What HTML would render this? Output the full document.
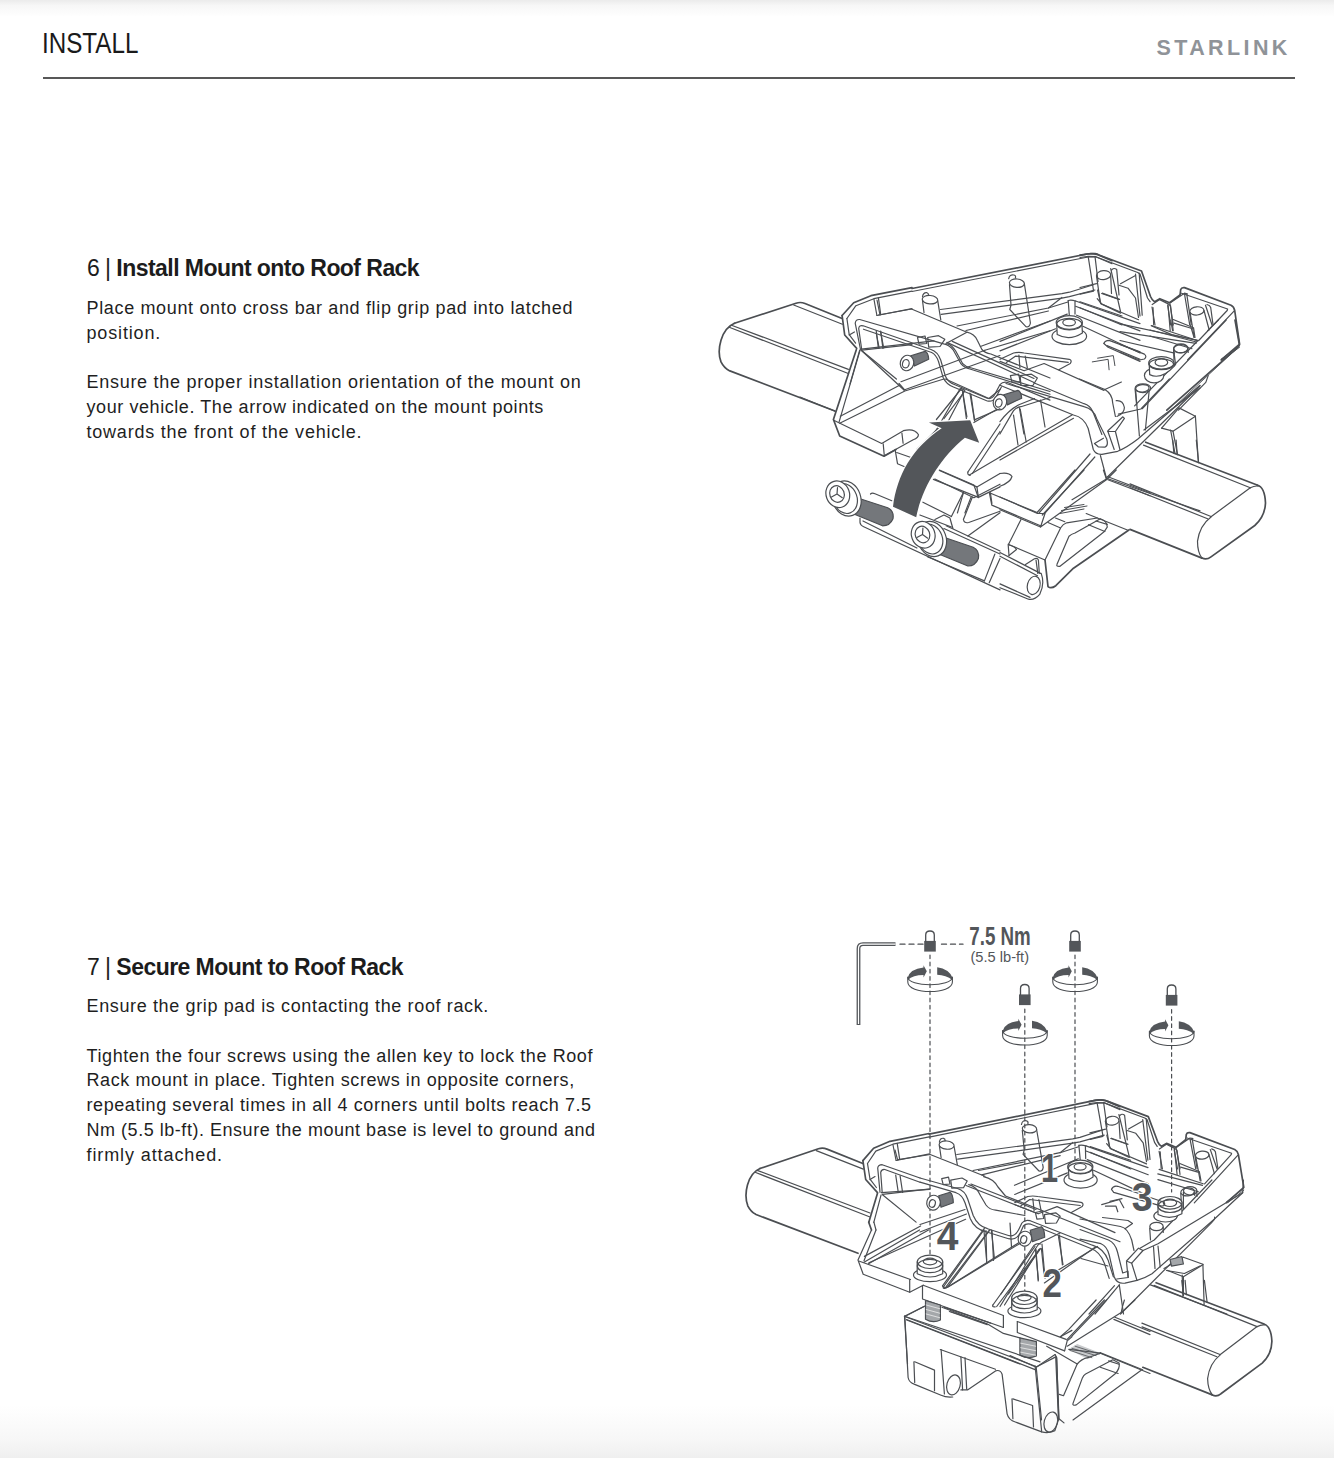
<!DOCTYPE html>
<html><head><meta charset="utf-8">
<style>
html,body{margin:0;padding:0;}
body{width:1334px;height:1458px;position:relative;overflow:hidden;background:#fff;font-family:"Liberation Sans",sans-serif;color:#1e1e1e;}
.topg{position:absolute;left:0;top:0;width:1334px;height:16px;background:linear-gradient(#ebebeb,#f7f7f7 35%,#fefefe 100%);}
.botg{position:absolute;left:0;top:1405px;width:1334px;height:53px;background:linear-gradient(#ffffff,#f7f7f7 65%,#efefef 100%);}
.hd{position:absolute;left:41.5px;top:22.8px;font-size:29px;line-height:40px;color:#1a1a1a;white-space:nowrap;transform:scaleX(0.835);transform-origin:0 0;}
.logo{position:absolute;left:1156.5px;top:36px;font-size:21.5px;font-weight:bold;letter-spacing:3.4px;color:#8f9398;line-height:24px;white-space:nowrap;}
.rule{position:absolute;left:43px;top:76.7px;width:1252px;height:2px;background:#585858;}
.h{position:absolute;left:87px;font-size:23px;letter-spacing:-0.55px;line-height:28px;white-space:nowrap;color:#1c1c1c;}
.h b{font-weight:bold;}
.p{position:absolute;left:86.5px;font-size:18px;letter-spacing:0.6px;line-height:24.8px;white-space:nowrap;color:#1f1f1f;}
svg{position:absolute;left:0;top:0;}
</style></head><body>
<div class="topg"></div>
<div class="botg"></div>
<div class="hd">INSTALL</div>
<div class="logo">STARLINK</div>
<div class="rule"></div>

<div class="h" style="top:254px">6 | <b>Install Mount onto Roof Rack</b></div>
<div class="p" style="top:296px">
<div style="letter-spacing:0.654px">Place mount onto cross bar and flip grip pad into latched</div>
<div style="letter-spacing:0.85px">position.</div>
<div>&nbsp;</div>
<div style="letter-spacing:0.718px">Ensure the proper installation orientation of the mount on</div>
<div style="letter-spacing:0.575px">your vehicle. The arrow indicated on the mount points</div>
<div style="letter-spacing:0.78px">towards the front of the vehicle.</div>
</div>

<div class="h" style="top:953px">7 | <b>Secure Mount to Roof Rack</b></div>
<div class="p" style="top:994px">
<div style="letter-spacing:0.63px">Ensure the grip pad is contacting the roof rack.</div>
<div>&nbsp;</div>
<div style="letter-spacing:0.6px">Tighten the four screws using the allen key to lock the Roof</div>
<div style="letter-spacing:0.59px">Rack mount in place. Tighten screws in opposite corners,</div>
<div style="letter-spacing:0.58px">repeating several times in all 4 corners until bolts reach 7.5</div>
<div style="letter-spacing:0.53px">Nm (5.5 lb-ft). Ensure the mount base is level to ground and</div>
<div style="letter-spacing:0.9px">firmly attached.</div>
</div>

<svg width="1334" height="1458" viewBox="0 0 1334 1458" fill="none" stroke="#4b4e52" stroke-width="1.2" stroke-linejoin="round" stroke-linecap="round">
<!-- DRAWINGS -->
<!-- d1_a1.txt -->
<path d="M 734.5 323.3 L 796.0 303.2 Q 800.5 301.7 805.0 303.5 L 842.1 318.5" stroke-width="1.7"/>
<path d="M 793.7 305.0 L 842.4 324.2"/>
<path d="M 731.5 325.2 L 848.4 369.4"/>
<path d="M 729.2 327.2 L 847.7 373.3"/>
<path d="M 734.5 323.3 C 721.0 329.0 716.5 349.9 721.0 361.9 C 724.0 367.9 727.0 369.4 729.2 370.6 L 834.9 411.0" stroke-width="1.7"/>
<path d="M 842.1 315.5 L 853.7 302.7 L 870.9 295.7 L 912.0 287.7" stroke-width="1.7"/>
<path d="M 846.9 318.5 L 855.9 305.7 L 873.9 298.7 L 912.0 291.2"/>
<path d="M 842.1 315.5 L 844.7 335.0 L 856.7 348.4" stroke-width="1.7"/>
<path d="M 846.9 318.5 L 849.2 334.7 L 855.6 343.2"/>
<path d="M 849.2 335.0 L 854.4 332.0"/>
<path d="M 873.9 299.0 L 876.9 315.5"/>
<path d="M 878.4 297.8 L 880.7 314.3"/>
<path d="M 876.9 315.5 L 912.0 308.7"/>
<path d="M 876.2 330.5 L 878.4 348.4"/>
<path d="M 880.7 331.2 L 882.9 348.4"/>
<path d="M 861.9 350.2 L 912.0 344.7"/>
<path d="M 856.4 349.6 L 833.4 419.5" stroke-width="1.7"/>
<path d="M 860.1 350.2 L 839.1 421.9"/>
<path d="M 861.9 350.7 L 896.4 379.0"/>
<ellipse cx="906.9" cy="363.4" rx="5.2" ry="6.7" transform="rotate(10.0 906.9 363.4)"/>
<!-- d1_a2.txt -->
<path d="M 912.0 288.5 L 1087.4 254.0 Q 1091.9 253.2 1097.9 254.7 L 1112.0 260.7" stroke-width="1.7"/>
<path d="M 912.0 291.5 L 1088.2 257.0 L 1095.7 256.7 L 1112.0 263.7"/>
<ellipse cx="930.0" cy="299.7" rx="7.8" ry="4.2" transform="rotate(5.0 930.0 299.7)"/>
<path d="M 922.5 300.5 L 924.0 312.5"/>
<path d="M 937.8 301.2 L 940.8 320.0"/>
<path d="M 922.5 296.7 Q 923.2 292.2 927.0 292.7 Q 928.8 293.3 928.5 295.2"/>
<ellipse cx="1016.9" cy="283.2" rx="7.5" ry="4.2" transform="rotate(5.0 1016.9 283.2)"/>
<path d="M 1009.5 284.7 L 1011.0 305.0 L 1009.8 309.5 L 1025.9 326.7 Q 1029.7 327.5 1030.4 323.0 L 1024.4 284.0"/>
<path d="M 1008.7 278.7 Q 1009.5 274.2 1013.9 275.0 Q 1016.2 275.7 1015.4 278.0"/>
<path d="M 940.5 309.5 L 1061.9 293.7 L 1069.4 292.2 L 1093.4 284.7"/>
<path d="M 941.2 314.3 L 1061.9 298.2 L 1069.4 296.7 L 1094.9 290.0"/>
<path d="M 957.0 326.0 L 1048.4 308.0 L 1067.9 302.0"/>
<path d="M 966.0 330.5 L 1048.4 311.0"/>
<path d="M 1048.4 308.0 L 1061.9 297.5"/>
<!-- d1_b1.txt -->
<path d="M 800.0 397.0 L 835.2 411.2"/>
<path d="M 833.7 420.2 L 839.7 436.0 L 884.0 456.2 L 896.0 449.5" stroke-width="1.7"/>
<path d="M 839.7 423.2 L 904.9 391.0 L 943.9 379.0"/>
<path d="M 899.0 383.5 L 904.9 390.2"/>
<path d="M 833.7 420.2 L 881.7 443.5 L 903.4 430.7 Q 913.9 427.7 918.4 434.5 Q 918.7 437.8 913.2 439.7 L 884.7 455.5"/>
<path d="M 883.2 443.8 L 884.3 455.8"/>
<path d="M 901.9 433.0 L 903.1 443.2"/>
<path d="M 895.2 450.2 L 897.5 463.7 L 906.4 467.5"/>
<path d="M 896.7 452.5 L 911.7 457.7"/>
<path d="M 936.4 419.5 L 961.9 388.0"/>
<path d="M 943.9 418.7 L 964.9 391.0"/>
<path d="M 916.9 449.5 L 942.4 424.0"/>
<path d="M 962.7 392.5 L 966.4 418.7"/>
<path d="M 970.9 394.0 L 974.7 421.0"/>
<path d="M 973.9 422.5 L 1000.0 407.5"/>
<path d="M 945.4 379.0 L 988.9 398.5 L 1000.0 389.5"/>
<path d="M 967.9 472.0 L 1000.0 424.0"/>
<path d="M 969.4 475.0 L 1000.0 457.0"/>
<path d="M 972.4 473.5 L 1000.0 431.5"/>
<path d="M 967.9 472.0 Q 967.2 475.0 970.2 475.3"/>
<path d="M 939.4 470.5 L 976.9 486.9 L 1000.0 473.5"/>
<path d="M 933.4 479.4 L 978.4 497.4 L 1000.0 486.9"/>
<path d="M 976.9 486.9 L 978.4 497.4"/>
<path d="M 990.4 492.9 L 991.9 503.4"/>
<path d="M 957.4 513.0 L 963.4 492.9"/>
<path d="M 964.9 513.0 L 970.9 497.4"/>
<!-- d1_b2.txt -->
<path d="M 1006.0 383.5 L 1084.0 406.7 Q 1093.7 409.0 1096.7 418.7 L 1106.7 439.0 Q 1108.7 445.7 1104.9 447.2 L 1098.2 446.8 L 1094.5 443.5 L 1103.4 438.2"/>
<path d="M 1000.0 385.3 L 1073.5 415.0 Q 1084.0 417.2 1088.2 428.5 L 1093.3 449.5 Q 1095.7 454.7 1101.9 454.3 L 1117.7 451.3 Q 1127.4 447.2 1137.9 439.0 L 1200.0 385.3"/>
<path d="M 1033.7 382.7 L 1084.0 403.7 Q 1090.0 405.2 1093.0 412.0 L 1101.9 434.5"/>
<path d="M 1079.5 379.0 L 1104.9 389.5 L 1121.4 382.0"/>
<path d="M 1104.9 389.5 Q 1112.4 394.0 1112.7 403.0 L 1115.4 416.5"/>
<path d="M 1107.9 430.7 L 1122.9 416.8 L 1124.4 418.3 L 1115.4 431.5 L 1107.9 431.5 Z"/>
<path d="M 1107.9 431.5 L 1114.2 449.5"/>
<path d="M 1115.4 431.5 L 1119.9 449.5"/>
<ellipse cx="1142.4" cy="388.3" rx="6.7" ry="3.7" transform="rotate(-5.0 1142.4 388.3)"/>
<path d="M 1135.7 391.0 L 1139.4 436.0"/>
<path d="M 1149.2 390.2 L 1145.4 430.0"/>
<path d="M 1118.4 414.2 L 1140.9 409.0 L 1169.4 379.0"/>
<path d="M 1116.9 416.5 Q 1124.4 413.5 1124.4 407.5 Q 1122.9 400.0 1116.2 400.7"/>
<path d="M 1143.9 430.0 L 1200.0 388.0"/>
<path d="M 1106.4 478.0 L 1200.0 385.7"/>
<path d="M 1100.4 455.5 L 1106.4 478.0"/>
<path d="M 1107.9 478.7 L 1200.0 510.9"/>
<path d="M 1106.4 479.1 L 1072.0 499.7"/>
<path d="M 1000.0 457.0 L 1072.0 415.0"/>
<path d="M 1000.0 460.0 L 1073.5 418.3"/>
<path d="M 1013.5 415.0 L 1018.0 445.0"/>
<path d="M 1020.2 409.0 L 1026.2 442.0"/>
<path d="M 1040.5 400.0 L 1045.0 427.0"/>
<path d="M 1000.0 421.7 Q 1009.0 409.7 1019.5 404.5 L 1034.5 398.5"/>
<path d="M 1039.0 513.0 L 1090.0 454.0"/>
<path d="M 1045.0 513.0 L 1094.8 457.0"/>
<path d="M 1000.0 473.5 Q 1009.0 472.0 1012.0 476.5 Q 1010.5 482.4 1000.0 486.2"/>
<path d="M 1161.6 428.2 L 1179.0 407.9 L 1195.4 416.2"/>
<path d="M 1161.6 428.2 L 1173.0 431.2 L 1195.4 416.2"/>
<path d="M 1173.0 431.2 L 1177.5 454.6"/>
<path d="M 1170.6 430.0 L 1175.1 454.0"/>
<path d="M 1195.4 416.2 L 1198.4 462.7"/>
<!-- d1_band.txt -->
<path d="M 946.9 342.4 L 1034.0 382.5"/>
<path d="M 952.3 341.4 L 1034.0 378.5"/>
<!-- d1_barR.txt -->
<path d="M 1145.7 442.2 L 1257.1 485.0" stroke-width="1.7"/>
<path d="M 1143.5 445.1 L 1250.3 487.8"/>
<path d="M 1130.0 483.9 L 1211.0 516.5"/>
<path d="M 1130.0 487.8 L 1207.6 518.7"/>
<path d="M 1130.0 529.4 L 1202.0 558.1" stroke-width="1.7"/>
<path d="M 1257.1 485.0 Q 1264.9 487.2 1265.5 503.0 Q 1264.9 516.5 1254.8 525.5 L 1211.0 556.9 Q 1206.5 560.3 1202.0 558.1" stroke-width="1.7"/>
<path d="M 1211.0 517.0 Q 1199.7 525.5 1197.5 541.2 Q 1197.5 552.4 1202.0 558.1"/>
<path d="M 1250.3 487.8 Q 1254.8 485.5 1258.2 486.1"/>
<path d="M 1172.7 440.0 L 1173.9 453.5"/>
<path d="M 1176.1 440.0 L 1177.2 454.6"/>
<path d="M 1196.3 440.0 L 1198.6 462.5"/>
<path d="M 1211.0 516.7 L 1250.3 487.8"/>
<!-- d1_c1.txt -->
<path d="M 870.5 494.0 Q 872.0 492.5 875.0 493.7 L 891.8 500.7"/>
<path d="M 860.0 518.0 L 860.0 522.5 Q 860.3 525.2 863.7 526.7 L 1000.0 589.9"/>
<path d="M 863.0 521.0 L 916.9 548.0"/>
<path d="M 943.9 528.5 L 1000.0 554.0"/>
<path d="M 946.2 525.8 L 1000.0 551.0"/>
<path d="M 927.4 556.7 L 984.4 580.9"/>
<path d="M 994.9 554.0 L 984.4 580.9"/>
<path d="M 1000.0 558.5 L 989.2 582.7"/>
<path d="M 855.5 497.3 L 887.7 507.8 Q 894.2 510.8 893.0 518.7 Q 890.0 525.8 882.5 525.8 L 853.2 513.8 Z" fill="#74777b"/>
<ellipse cx="846.5" cy="498.5" rx="14.2" ry="18.0" transform="rotate(-20.0 846.5 498.5)" fill="#fff"/>
<ellipse cx="845.0" cy="498.5" rx="12.0" ry="15.3" transform="rotate(-20.0 845.0 498.5)"/>
<ellipse cx="837.8" cy="494.3" rx="11.7" ry="13.5" transform="rotate(-20.0 837.8 494.3)" fill="#fff"/>
<ellipse cx="837.0" cy="494.0" rx="7.2" ry="8.4" transform="rotate(-20.0 837.0 494.0)"/>
<path d="M 837.0 494.0 L 837.5 487.7 M 837.0 494.0 L 831.5 497.0 M 837.0 494.0 L 842.3 497.7"/>
<path d="M 940.9 536.3 L 973.2 547.2 Q 979.6 550.2 978.4 558.5 Q 975.4 566.0 967.9 566.0 L 938.7 554.0 Z" fill="#74777b"/>
<ellipse cx="931.9" cy="539.0" rx="14.2" ry="18.0" transform="rotate(-20.0 931.9 539.0)" fill="#fff"/>
<ellipse cx="930.4" cy="539.0" rx="12.0" ry="15.3" transform="rotate(-20.0 930.4 539.0)"/>
<ellipse cx="923.2" cy="534.8" rx="11.7" ry="13.5" transform="rotate(-20.0 923.2 534.8)" fill="#fff"/>
<ellipse cx="922.5" cy="534.5" rx="7.2" ry="8.4" transform="rotate(-20.0 922.5 534.5)"/>
<path d="M 922.5 534.5 L 922.9 528.2 M 922.5 534.5 L 916.9 537.5 M 922.5 534.5 L 927.7 538.2"/>
<path d="M 934.9 479.0 L 973.9 497.7 L 1000.0 484.2"/>
<path d="M 939.4 470.0 L 973.9 485.0 L 978.4 497.7"/>
<path d="M 963.4 492.5 L 951.4 516.5"/>
<path d="M 972.4 497.0 L 963.4 519.5 Q 964.2 523.7 968.7 522.5 L 1000.0 511.2"/>
<path d="M 922.9 502.2 L 951.4 516.5"/>
<path d="M 919.9 515.0 L 951.4 527.0"/>
<path d="M 934.9 519.5 L 943.9 515.0 L 949.9 518.0 L 952.9 528.5"/>
<path d="M 967.9 536.0 L 1000.0 512.7"/>
<!-- d1_c2.txt -->
<path d="M 1107.9 476.7 L 1149.9 492.8"/>
<path d="M 1107.9 479.7 L 1149.9 495.8"/>
<path d="M 1086.2 513.5 L 1127.4 530.0"/>
<path d="M 1075.0 470.0 L 1037.5 512.0"/>
<path d="M 1084.0 470.0 L 1042.3 515.0"/>
<path d="M 1000.0 497.0 L 1037.5 513.5 L 1045.0 513.5 L 1040.5 527.0 L 1106.4 479.7 L 1116.2 470.0"/>
<path d="M 1000.0 509.7 L 1040.5 527.0"/>
<path d="M 1103.4 470.0 L 1106.4 479.0"/>
<path d="M 1061.5 510.5 L 1087.0 506.0" stroke-width="1.0"/>
<path d="M 1060.0 513.5 L 1084.0 509.0" stroke-width="1.0"/>
<path d="M 1064.5 507.5 L 1084.0 504.5" stroke-width="1.0"/>
<path d="M 1021.0 519.5 L 1008.2 545.0 L 1009.0 555.5"/>
<path d="M 1008.2 544.2 L 1045.0 560.0 L 1060.7 527.7 Q 1063.0 524.0 1066.7 522.8 L 1097.5 518.0"/>
<path d="M 1045.0 560.0 L 1048.0 586.6 Q 1051.0 589.2 1055.8 585.7 L 1073.5 568.2 L 1128.9 530.0" stroke-width="1.7"/>
<path d="M 1057.0 564.2 L 1069.0 536.3 Q 1071.2 534.2 1075.0 533.0 L 1100.4 518.7 Q 1107.2 521.0 1107.3 527.0 Q 1105.2 531.5 1100.7 534.5 L 1060.0 566.3 Q 1055.8 566.7 1057.0 564.2 Z"/>
<path d="M 1088.5 524.7 L 1104.9 531.5"/>
<path d="M 1096.0 521.0 L 1107.3 524.3"/>
<path d="M 1048.0 522.5 L 1060.0 527.7"/>
<path d="M 1055.5 518.0 L 1064.8 521.7"/>
<path d="M 1009.0 545.0 Q 1015.0 546.5 1016.5 549.5 L 1009.0 555.5"/>
<path d="M 1000.0 552.5 L 1040.5 573.4"/>
<path d="M 1000.0 556.2 L 1037.5 575.7"/>
<path d="M 1025.5 564.5 L 1034.5 558.8 Q 1037.5 557.7 1038.4 560.0 L 1039.3 573.4"/>
<path d="M 1036.0 560.0 L 1037.8 573.4"/>
<ellipse cx="1033.7" cy="585.4" rx="6.3" ry="9.3" transform="rotate(15.0 1033.7 585.4)"/>
<path d="M 1041.2 573.4 Q 1045.0 583.9 1039.7 594.4 Q 1034.5 600.4 1028.5 599.2 L 1000.0 587.7"/>
<path d="M 1000.0 583.9 L 1030.0 597.4"/>
<path d="M 989.4 492.8 L 991.8 505.1 L 1040.5 525.8"/>
<path d="M 989.4 492.8 L 1037.2 512.6"/>
<!-- d1_r1.txt -->
<path d="M 1080.0 255.2 Q 1087.5 253.4 1095.0 253.7 Q 1097.2 254.1 1099.5 255.2 L 1141.5 271.0 L 1150.5 296.5 Q 1152.0 300.2 1154.6 301.7 L 1159.8 298.7 L 1169.6 302.8 L 1180.0 295.0" stroke-width="1.7"/>
<path d="M 1080.0 257.5 L 1088.2 256.4 L 1095.7 256.7 L 1137.7 272.5 L 1140.0 274.0 L 1147.5 298.0 L 1150.1 301.7"/>
<path d="M 1088.2 256.7 L 1093.5 290.5"/>
<path d="M 1095.0 256.4 L 1098.0 281.5"/>
<ellipse cx="1103.6" cy="275.1" rx="7.1" ry="4.5" transform="rotate(-5.0 1103.6 275.1)"/>
<path d="M 1096.5 275.9 L 1100.2 301.7"/>
<path d="M 1110.7 275.5 L 1111.5 293.5"/>
<path d="M 1110.7 268.7 L 1120.5 311.5"/>
<path d="M 1111.5 270.2 Q 1113.7 267.2 1116.7 269.5 L 1119.0 295.0"/>
<path d="M 1119.0 285.2 L 1128.0 288.2 L 1135.5 298.0 L 1138.5 317.5"/>
<path d="M 1120.5 283.7 L 1135.5 275.5"/>
<path d="M 1135.5 274.0 L 1140.0 316.0"/>
<path d="M 1139.2 273.2 L 1142.2 315.2"/>
<path d="M 1101.7 293.5 L 1119.0 299.5"/>
<path d="M 1097.2 298.7 L 1101.7 304.0 L 1138.5 319.7"/>
<path d="M 1080.0 301.7 L 1122.0 316.0"/>
<path d="M 1080.0 307.7 L 1122.0 325.0"/>
<path d="M 1080.0 287.5 L 1096.5 283.7"/>
<path d="M 1080.0 294.2 L 1093.5 291.2"/>
<path d="M 1152.0 307.0 L 1155.0 325.0"/>
<path d="M 1167.7 305.5 L 1170.7 325.0"/>
<path d="M 1170.0 304.0 L 1173.3 325.0"/>
<!-- d1_r2.txt -->
<path d="M 1180.0 295.5 L 1180.7 289.5 Q 1181.5 287.2 1184.5 287.6 L 1231.0 305.2 Q 1234.0 306.7 1234.7 310.5 L 1239.6 344.2 L 1221.2 360.0" stroke-width="1.7"/>
<path d="M 1181.5 293.2 L 1227.6 309.0 L 1227.2 310.5 L 1198.7 340.5"/>
<path d="M 1234.0 311.2 L 1187.5 360.0"/>
<path d="M 1152.2 304.5 L 1159.7 299.6 L 1168.7 304.1 L 1170.6 306.0 L 1173.2 330.7"/>
<path d="M 1153.0 307.5 L 1153.7 324.7"/>
<path d="M 1168.0 304.5 L 1170.2 330.7"/>
<path d="M 1169.9 303.0 L 1184.5 293.2 L 1187.5 294.0"/>
<path d="M 1184.5 294.0 L 1189.7 324.7"/>
<path d="M 1186.7 293.6 L 1191.2 324.7"/>
<path d="M 1173.2 319.5 L 1193.5 327.7 L 1195.0 337.5"/>
<path d="M 1174.0 323.2 L 1192.0 328.5"/>
<ellipse cx="1196.9" cy="310.9" rx="7.1" ry="4.1" transform="rotate(-5.0 1196.9 310.9)"/>
<path d="M 1190.1 312.7 L 1194.2 337.5"/>
<path d="M 1204.0 310.5 L 1209.2 330.0"/>
<path d="M 1205.5 305.2 L 1212.2 325.5"/>
<path d="M 1207.0 304.5 Q 1210.0 305.2 1210.7 307.5 L 1213.0 324.7"/>
<path d="M 1151.5 325.5 L 1197.2 340.5"/>
<path d="M 1150.0 330.0 L 1196.5 342.0"/>
<path d="M 1150.0 336.0 L 1192.0 348.7"/>
<ellipse cx="1180.7" cy="348.7" rx="7.1" ry="4.1" transform="rotate(-5.0 1180.7 348.7)"/>
<path d="M 1173.6 350.2 L 1174.0 360.0"/>
<path d="M 1187.9 349.5 L 1188.2 352.5"/>
<path d="M 1221.2 359.2 L 1239.2 345.7" stroke-width="0.9"/>
<path d="M 1222.7 360.0 L 1239.6 347.2" stroke-width="0.9"/>
<!-- d1_r3.txt -->
<path d="M 1075.6 301.0 L 1140.0 323.6"/>
<path d="M 1075.6 306.3 L 1140.0 330.9"/>
<path d="M 1076.6 315.2 L 1140.0 340.4"/>
<path d="M 1082.9 326.2 L 1140.0 353.0"/>
<path d="M 1000.0 341.4 L 1067.2 314.1"/>
<path d="M 1000.0 350.9 L 1055.6 328.8"/>
<path d="M 1068.2 300.5 L 1069.3 315.2"/>
<path d="M 1075.0 301.5 L 1075.0 314.1"/>
<path d="M 1068.2 300.5 Q 1071.4 299.7 1075.6 301.0"/>
<ellipse cx="1069.3" cy="336.2" rx="17.3" ry="8.4" transform="rotate(0.0 1069.3 336.2)" fill="#fff"/>
<path d="M 1056.7 323.6 L 1057.2 334.6 Q 1069.3 341.4 1082.4 333.0 L 1081.9 323.6 Z" fill="#fff"/>
<ellipse cx="1069.3" cy="322.5" rx="13.1" ry="6.8" transform="rotate(0.0 1069.3 322.5)" fill="#fff"/>
<ellipse cx="1069.3" cy="324.1" rx="12.6" ry="5.8" transform="rotate(0.0 1069.3 324.1)"/>
<ellipse cx="1069.1" cy="322.5" rx="6.3" ry="3.4" transform="rotate(0.0 1069.1 322.5)"/>
<path d="M 1103.9 343.5 Q 1104.9 340.4 1109.1 340.4 L 1140.0 351.9"/>
<path d="M 1107.0 345.6 L 1140.0 359.3"/>
<path d="M 1103.9 343.5 L 1108.1 347.2 L 1140.0 361.4"/>
<path d="M 1092.3 361.9 L 1108.1 359.3 L 1109.1 369.8" stroke-width="1"/>
<path d="M 1097.6 358.2 L 1113.3 355.6 L 1114.9 365.6" stroke-width="1"/>
<path d="M 1000.0 359.3 L 1013.6 353.0 Q 1018.9 351.9 1024.1 353.0 L 1069.3 359.3 Q 1072.4 360.3 1070.3 363.5 L 1058.8 369.8"/>
<path d="M 1006.3 362.4 L 1015.7 356.1 L 1068.2 362.4"/>
<path d="M 1018.9 355.1 L 1019.9 367.7"/>
<path d="M 1025.2 356.1 L 1027.3 367.7"/>
<path d="M 1000.0 361.4 L 1024.1 370.8 L 1044.1 363.5 L 1104.0 390.4"/>
<path d="M 1097.6 290.0 L 1100.7 303.6 L 1120.7 313.1"/>
<path d="M 1102.3 293.1 L 1119.6 299.4"/>
<!-- d1_r4.txt -->
<path d="M 1226.2 320.0 L 1142.4 408.7"/>
<path d="M 1218.4 320.0 L 1207.7 330.7"/>
<path d="M 1198.0 340.5 L 1134.6 405.8"/>
<path d="M 1235.0 320.0 L 1239.4 344.9 L 1238.4 346.8 L 1166.8 410.1" stroke-width="1.7"/>
<path d="M 1237.0 348.3 L 1170.7 410.1" stroke-width="0.9"/>
<path d="M 1208.2 375.6 L 1205.8 382.4 L 1178.5 410.1"/>
<path d="M 1120.0 323.9 L 1198.0 340.5"/>
<path d="M 1120.0 331.7 L 1196.0 343.4"/>
<path d="M 1120.0 340.5 L 1174.6 353.1"/>
<path d="M 1120.0 344.4 L 1144.4 354.1 Q 1147.3 356.5 1144.4 359.0 L 1139.5 360.0 L 1120.0 352.2"/>
<ellipse cx="1154.1" cy="375.6" rx="9.7" ry="7.3" transform="rotate(0.0 1154.1 375.6)" fill="#fff"/>
<path d="M 1149.2 363.9 L 1149.7 374.6 Q 1160.9 380.4 1174.6 365.8 L 1174.1 363.4 Z" fill="#fff"/>
<ellipse cx="1161.4" cy="362.9" rx="12.7" ry="6.3" transform="rotate(0.0 1161.4 362.9)" fill="#fff"/>
<ellipse cx="1161.4" cy="364.3" rx="12.2" ry="5.4" transform="rotate(0.0 1161.4 364.3)"/>
<ellipse cx="1161.4" cy="362.4" rx="6.3" ry="3.7" transform="rotate(0.0 1161.4 362.4)"/>
<ellipse cx="1180.9" cy="348.3" rx="7.3" ry="4.4" transform="rotate(0.0 1180.9 348.3)"/>
<path d="M 1173.6 349.2 L 1175.6 364.8"/>
<ellipse cx="1142.9" cy="388.2" rx="7.8" ry="4.4" transform="rotate(0.0 1142.9 388.2)"/>
<path d="M 1135.1 389.2 L 1136.6 404.8"/>
<path d="M 1151.2 325.8 L 1171.7 334.6 L 1198.0 340.5"/>
<path d="M 1170.7 320.0 L 1172.6 330.7"/>
<path d="M 1190.2 324.9 L 1194.1 337.5"/>
<!-- d1_s.txt -->
<path d="M 878.5 315.0 L 911.5 309.0 L 966.9 332.2 L 946.0 343.5"/>
<path d="M 966.9 332.2 Q 974.4 333.7 977.4 340.5 L 981.9 349.5 Q 984.9 353.2 990.9 354.0 L 1050.0 378.0"/>
<path d="M 980.4 346.5 L 1050.0 321.0"/>
<path d="M 984.9 350.2 L 1050.0 330.7"/>
<path d="M 860.5 349.5 L 855.2 323.2 Q 855.7 319.2 859.7 319.5 L 943.7 343.8 Q 949.3 344.7 953.4 350.2 L 960.9 363.7 Q 964.2 367.8 969.9 369.0 L 1050.0 394.2"/>
<path d="M 947.5 343.8 Q 951.9 345.0 955.7 351.0 L 962.7 363.7 Q 965.7 367.0 970.7 367.8 L 1050.0 391.5"/>
<path d="M 861.7 349.5 L 858.7 328.5 Q 859.0 324.7 863.2 325.8 L 931.0 349.5 Q 937.7 351.7 940.7 360.0 L 945.2 375.7 Q 947.8 382.2 954.9 384.7 L 987.2 398.2 Q 991.7 399.7 994.7 394.5 L 999.9 384.7 Q 1003.2 381.0 1007.7 382.5 L 1050.0 400.1"/>
<path d="M 863.5 329.2 L 931.7 352.5 Q 936.2 354.7 938.5 361.5 L 943.0 377.2 Q 946.0 384.0 953.4 387.0 L 986.7 400.7 Q 992.4 402.7 996.2 396.7 L 1001.4 387.0"/>
<path d="M 877.0 300.0 L 880.0 315.0"/>
<path d="M 876.2 333.0 L 879.2 348.0"/>
<path d="M 880.7 332.2 L 883.7 348.0"/>
<path d="M 861.2 349.2 L 934.0 340.8"/>
<path d="M 910.7 355.8 L 925.0 351.4 Q 928.3 352.5 928.7 359.2 L 914.5 366.0 Z" fill="#74777b"/>
<ellipse cx="907.0" cy="363.0" rx="6.7" ry="7.8" transform="rotate(15.0 907.0 363.0)" fill="#fff"/>
<ellipse cx="905.8" cy="363.7" rx="3.3" ry="4.2" transform="rotate(15.0 905.8 363.7)"/>
<path d="M 1003.7 394.8 L 1017.9 390.4 Q 1021.2 391.5 1021.7 398.2 L 1007.4 404.9 Z" fill="#74777b"/>
<ellipse cx="999.9" cy="402.2" rx="6.7" ry="7.8" transform="rotate(15.0 999.9 402.2)" fill="#fff"/>
<ellipse cx="998.7" cy="403.0" rx="3.3" ry="4.2" transform="rotate(15.0 998.7 403.0)"/>
<path d="M 917.5 337.5 L 925.0 336.0 L 926.8 343.5 L 919.0 344.2 Z"/>
<path d="M 927.7 337.5 L 938.5 335.7 L 944.8 339.3 L 940.0 346.5 L 928.7 347.2 Z"/>
<path d="M 1010.4 375.7 L 1018.7 374.2 L 1020.2 381.7 L 1011.9 382.2 Z"/>
<path d="M 1020.2 375.7 L 1031.4 374.2 L 1037.4 378.0 L 1032.9 385.5 L 1020.9 385.5 Z"/>
<path d="M 861.2 350.2 L 904.0 390.0"/>
<path d="M 840.3 416.3 L 899.6 385.3"/>
<path d="M 901.0 381.7 L 984.9 350.2"/>
<path d="M 904.0 390.0 L 999.9 355.5"/>
<path d="M 850.0 384.0 L 859.7 350.2"/>
<path d="M 934.0 434.0 L 960.2 388.5 L 964.7 390.0 L 941.5 434.0"/>
<path d="M 962.4 390.0 L 966.9 416.9"/>
<path d="M 969.9 393.0 L 974.4 419.9"/>
<path d="M 974.4 419.9 L 999.9 408.7"/>
<path d="M 999.9 434.0 L 1013.4 410.9 Q 1016.4 407.2 1020.9 406.7 L 1050.0 397.5"/>
<path d="M 1019.4 407.9 L 1023.9 434.0"/>
<!-- d1_zarrow.txt -->
<path d="M 893.0 506.7 C 897.0 475.0 912.0 448.0 941.7 428.2 L 928.9 422.5 L 970.2 420.2 L 979.2 442.7 L 964.9 437.8 C 940.0 458.0 922.0 488.0 916.2 517.2 Z" fill="#53565a" stroke="#fff" stroke-width="2.5" paint-order="stroke"/>
<!-- d2_a1.txt -->
<path d="M 760.0 1168.5 L 818.4 1148.8 Q 822.7 1147.4 827.0 1149.1 L 862.9 1163.5" stroke-width="1.7"/>
<path d="M 816.3 1150.6 L 863.3 1169.1"/>
<path d="M 757.2 1170.4 L 870.0 1213.0"/>
<path d="M 755.1 1172.3 L 869.4 1216.8"/>
<path d="M 760.0 1168.5 C 747.2 1174.1 743.4 1194.5 747.9 1206.1 C 750.9 1211.9 753.8 1213.3 756.0 1214.5 L 858.0 1253.3" stroke-width="1.7"/>
<path d="M 862.9 1160.6 L 873.6 1148.2 L 890.0 1141.3 L 929.1 1133.5" stroke-width="1.7"/>
<path d="M 867.5 1163.5 L 875.8 1151.1 L 892.9 1144.2 L 929.2 1136.8"/>
<path d="M 862.9 1160.6 L 865.7 1179.5 L 877.5 1192.6" stroke-width="1.7"/>
<path d="M 867.5 1163.5 L 870.0 1179.2 L 876.4 1187.5"/>
<path d="M 870.0 1179.5 L 875.0 1176.6"/>
<path d="M 892.9 1144.5 L 896.1 1160.5"/>
<path d="M 897.2 1143.3 L 899.7 1159.3"/>
<path d="M 896.1 1160.5 L 929.6 1153.9"/>
<path d="M 895.7 1175.1 L 898.3 1192.5"/>
<path d="M 900.1 1175.8 L 902.6 1192.5"/>
<path d="M 882.5 1194.3 L 930.3 1188.8"/>
<path d="M 877.5 1193.3 L 868.8 1222.3" stroke-width="1.7"/>
<path d="M 881.1 1194.8 L 873.8 1222.3"/>
<path d="M 882.5 1194.7 L 916.1 1222.1"/>
<!-- d2_a2.txt -->
<path d="M 929.1 1134.2 L 1096.3 1100.2 Q 1100.5 1099.5 1106.3 1100.9 L 1119.9 1106.7" stroke-width="1.7"/>
<path d="M 929.2 1137.1 L 1097.0 1103.1 L 1104.2 1102.8 L 1120.0 1109.6"/>
<ellipse cx="946.6" cy="1145.1" rx="7.5" ry="4.1" transform="rotate(5.0 946.6 1145.1)"/>
<path d="M 939.4 1145.8 L 941.1 1157.5"/>
<path d="M 954.1 1146.5 L 957.3 1164.7"/>
<path d="M 939.4 1142.2 Q 940.0 1137.8 943.6 1138.3 Q 945.3 1138.8 945.1 1140.7"/>
<ellipse cx="1029.5" cy="1128.8" rx="7.2" ry="4.1" transform="rotate(5.0 1029.5 1128.8)"/>
<path d="M 1022.3 1130.3 L 1024.2 1149.9 L 1023.1 1154.3 L 1039.0 1171.0 Q 1042.6 1171.7 1043.2 1167.3 L 1036.6 1129.5"/>
<path d="M 1021.5 1124.5 Q 1022.1 1120.1 1026.4 1120.8 Q 1028.6 1121.5 1027.9 1123.7"/>
<path d="M 956.8 1154.5 L 1072.7 1138.9 L 1079.9 1137.4 L 1102.6 1130.0"/>
<path d="M 957.7 1159.2 L 1072.8 1143.2 L 1079.9 1141.8 L 1104.2 1135.1"/>
<path d="M 973.0 1170.5 L 1060.1 1152.7 L 1078.6 1146.8"/>
<path d="M 981.7 1174.8 L 1060.2 1155.6"/>
<path d="M 1060.1 1152.7 L 1072.8 1142.5"/>
<!-- d2_band.txt -->
<path d="M 966.0 1185.5 L 1036.0 1213.0"/>
<path d="M 971.0 1184.0 L 1036.0 1209.5"/>
<path d="M 864.4 1256.4 L 920.6 1226.0"/>
<path d="M 868.9 1262.7 L 965.6 1219.3"/>
<path d="M 868.7 1222.2 L 871.5 1230.0" stroke-width="1.7"/>
<path d="M 873.9 1222.2 L 876.0 1230.0"/>
<!-- d2_barR.txt -->
<path d="M 1156.1 1282.7 L 1263.5 1323.8" stroke-width="1.7"/>
<path d="M 1154.0 1285.4 L 1257.1 1326.6"/>
<path d="M 1141.9 1323.1 L 1220.0 1354.5"/>
<path d="M 1142.0 1326.9 L 1216.9 1356.7"/>
<path d="M 1142.8 1367.3 L 1212.3 1394.9" stroke-width="1.7"/>
<path d="M 1263.5 1323.8 Q 1271.1 1326.0 1271.9 1341.3 Q 1271.7 1354.4 1262.2 1363.1 L 1220.9 1393.8 Q 1216.7 1397.1 1212.3 1394.9" stroke-width="1.7"/>
<path d="M 1220.0 1355.1 Q 1209.5 1363.3 1207.6 1378.6 Q 1207.9 1389.5 1212.3 1394.9"/>
<path d="M 1257.1 1326.6 Q 1261.3 1324.4 1264.6 1324.9"/>
<path d="M 1181.8 1280.5 L 1183.2 1293.5"/>
<path d="M 1185.1 1280.4 L 1186.4 1294.6"/>
<path d="M 1204.4 1280.4 L 1207.1 1302.2"/>
<path d="M 1220.0 1354.7 L 1257.1 1326.6"/>
<!-- d2_barfix.txt -->
<path d="M 1100.0 1352.6 L 1142.7 1369.7"/>
<!-- d2_fix.txt -->
<path d="M 1017.3 1321.5 L 1017.3 1332.5 L 1064.6 1350.9"/>
<path d="M 1017.3 1321.5 L 1066.1 1339.4"/>
<path d="M 1064.6 1350.9 L 1067.2 1340.9 L 1071.9 1336.7"/>
<path d="M 1060.4 1336.7 L 1071.9 1330.4"/>
<path d="M 1060.4 1336.7 L 1068.8 1329.4 L 1096.1 1300.0"/>
<path d="M 1066.7 1339.9 L 1104.4 1300.0"/>
<path d="M 1071.9 1336.2 L 1106.5 1300.0"/>
<path d="M 1067.2 1346.2 L 1121.2 1312.6 L 1134.9 1300.0"/>
<path d="M 1121.2 1312.6 Q 1122.3 1306.3 1124.4 1300.0"/>
<path d="M 1113.9 1319.4 L 1150.0 1334.6"/>
<path d="M 1114.9 1317.3 L 1150.0 1331.5"/>
<path d="M 1068.8 1349.3 L 1077.2 1344.1 L 1100.3 1353.0 L 1087.7 1359.3 Z" fill="#c9cbcd" stroke="none"/>
<path d="M 1071.9 1348.3 L 1096.1 1355.6 M 1075.1 1346.2 L 1099.2 1354.0 M 1069.8 1350.4 L 1091.9 1357.7" stroke-width="0.8"/>
<path d="M 1068.8 1349.3 L 1100.3 1353.0"/>
<path d="M 1010.0 1355.6 L 1036.2 1367.2 L 1055.1 1354.6"/>
<path d="M 1036.2 1367.2 L 1041.5 1419.9"/>
<path d="M 1055.1 1354.6 Q 1056.7 1356.7 1056.7 1358.8 L 1058.8 1419.9"/>
<path d="M 1046.7 1346.2 L 1077.2 1364.0"/>
<path d="M 1059.3 1394.4 L 1063.5 1395.7 L 1077.2 1364.0 Q 1081.4 1359.0 1087.7 1357.7 L 1100.3 1353.3"/>
<path d="M 1100.3 1353.3 L 1150.0 1373.5"/>
<path d="M 1073.0 1419.9 L 1141.2 1370.3"/>
<path d="M 1073.0 1403.4 Q 1072.1 1406.0 1076.3 1404.9 L 1114.9 1374.0 Q 1120.2 1368.7 1119.1 1363.0 L 1112.8 1359.8 L 1085.6 1374.0 Q 1083.5 1375.3 1082.4 1377.9 Z"/>
<path d="M 1100.3 1367.2 L 1118.1 1373.5"/>
<path d="M 1108.6 1360.9 L 1119.1 1364.2"/>
<!-- d2_icons.txt -->
<path d="M 924.2 940.9 L 935.8 940.9 L 935.8 951.6 L 924.2 951.6 Z" fill="#53565a" stroke="none"/>
<path d="M 925.7 941.0 L 925.7 935.0 Q 925.7 931.0 930.0 931.0 Q 934.3 931.0 934.3 935.0 L 934.3 941.0" stroke-width="1.3"/>
<path d="M 907.8 977.5 Q 910.0 969.0 923.5 967.5 L 923.5 965.2 L 926.8 971.2 L 923.5 977.6 L 923.5 975.0 Q 913.0 975.0 907.8 980.0 Z" fill="#53565a" stroke="none"/>
<path d="M 937.2 967.2 Q 949.0 969.0 952.4 977.5 L 952.4 980.0 Q 946.0 975.0 937.2 974.8 Z" fill="#53565a" stroke="none"/>
<path d="M 907.8 977.0 C 907.8 987.3 952.4 987.3 952.4 977.0" stroke-width="1.1"/>
<path d="M 907.8 977.5 L 907.8 982.0 C 907.8 994.7 952.4 994.7 952.4 982.0 L 952.4 977.5" stroke-width="1.1"/>
<path d="M 1069.2 940.9 L 1080.8 940.9 L 1080.8 951.6 L 1069.2 951.6 Z" fill="#53565a" stroke="none"/>
<path d="M 1070.7 941.0 L 1070.7 935.0 Q 1070.7 931.0 1075.0 931.0 Q 1079.3 931.0 1079.3 935.0 L 1079.3 941.0" stroke-width="1.3"/>
<path d="M 1052.8 977.5 Q 1055.0 969.0 1068.5 967.5 L 1068.5 965.2 L 1071.8 971.2 L 1068.5 977.6 L 1068.5 975.0 Q 1058.0 975.0 1052.8 980.0 Z" fill="#53565a" stroke="none"/>
<path d="M 1082.2 967.2 Q 1094.0 969.0 1097.4 977.5 L 1097.4 980.0 Q 1091.0 975.0 1082.2 974.8 Z" fill="#53565a" stroke="none"/>
<path d="M 1052.8 977.0 C 1052.8 987.3 1097.4 987.3 1097.4 977.0" stroke-width="1.1"/>
<path d="M 1052.8 977.5 L 1052.8 982.0 C 1052.8 994.7 1097.4 994.7 1097.4 982.0 L 1097.4 977.5" stroke-width="1.1"/>
<path d="M 1019.0 994.4 L 1030.6 994.4 L 1030.6 1005.1 L 1019.0 1005.1 Z" fill="#53565a" stroke="none"/>
<path d="M 1020.5 994.5 L 1020.5 988.5 Q 1020.5 984.5 1024.8 984.5 Q 1029.1 984.5 1029.1 988.5 L 1029.1 994.5" stroke-width="1.3"/>
<path d="M 1002.6 1031.0 Q 1004.8 1022.5 1018.3 1021.0 L 1018.3 1018.7 L 1021.6 1024.7 L 1018.3 1031.1 L 1018.3 1028.5 Q 1007.8 1028.5 1002.6 1033.5 Z" fill="#53565a" stroke="none"/>
<path d="M 1032.0 1020.7 Q 1043.8 1022.5 1047.2 1031.0 L 1047.2 1033.5 Q 1040.8 1028.5 1032.0 1028.3 Z" fill="#53565a" stroke="none"/>
<path d="M 1002.6 1030.5 C 1002.6 1040.8 1047.2 1040.8 1047.2 1030.5" stroke-width="1.1"/>
<path d="M 1002.6 1031.0 L 1002.6 1035.5 C 1002.6 1048.2 1047.2 1048.2 1047.2 1035.5 L 1047.2 1031.0" stroke-width="1.1"/>
<path d="M 1165.8 994.9 L 1177.4 994.9 L 1177.4 1005.6 L 1165.8 1005.6 Z" fill="#53565a" stroke="none"/>
<path d="M 1167.3 995.0 L 1167.3 989.0 Q 1167.3 985.0 1171.6 985.0 Q 1175.9 985.0 1175.9 989.0 L 1175.9 995.0" stroke-width="1.3"/>
<path d="M 1149.4 1031.5 Q 1151.6 1023.0 1165.1 1021.5 L 1165.1 1019.2 L 1168.4 1025.2 L 1165.1 1031.6 L 1165.1 1029.0 Q 1154.6 1029.0 1149.4 1034.0 Z" fill="#53565a" stroke="none"/>
<path d="M 1178.8 1021.2 Q 1190.6 1023.0 1194.0 1031.5 L 1194.0 1034.0 Q 1187.6 1029.0 1178.8 1028.8 Z" fill="#53565a" stroke="none"/>
<path d="M 1149.4 1031.0 C 1149.4 1041.3 1194.0 1041.3 1194.0 1031.0" stroke-width="1.1"/>
<path d="M 1149.4 1031.5 L 1149.4 1036.0 C 1149.4 1048.7 1194.0 1048.7 1194.0 1036.0 L 1194.0 1031.5" stroke-width="1.1"/>
<path d="M 930.0 955.0 L 930.0 1255.0" stroke-width="1.2" stroke-dasharray="3.6 3.6"/>
<path d="M 1075.0 955.0 L 1075.0 1165.0" stroke-width="1.2" stroke-dasharray="3.6 3.6"/>
<path d="M 1024.8 1009.0 L 1024.8 1298.0" stroke-width="1.2" stroke-dasharray="3.6 3.6"/>
<path d="M 1171.6 1009.5 L 1171.6 1192.0" stroke-width="1.2" stroke-dasharray="3.6 3.6"/>
<path d="M 900.0 944.2 L 923.0 944.2" stroke-width="1.3" stroke-dasharray="5 4"/>
<path d="M 941.5 944.2 L 963.0 944.2" stroke-width="1.3" stroke-dasharray="5 4"/>
<path d="M 895.5 944.2 L 863.0 944.2 Q 858.5 944.2 858.5 948.7 L 858.5 1025.0" stroke-width="3.8" stroke="#53565a" stroke-linecap="butt"/>
<path d="M 895.5 944.2 L 863.0 944.2 Q 858.5 944.2 858.5 948.7 L 858.5 1024.0" stroke-width="1.2" stroke="#fff" stroke-linecap="butt"/>
<!-- d2_low1.txt -->
<path d="M 871.5 1230.0 L 858.0 1260.0 L 863.2 1274.2 L 909.7 1292.2 L 923.2 1285.2"/>
<path d="M 876.0 1230.0 L 864.0 1260.7"/>
<path d="M 859.5 1261.2 L 910.5 1279.5"/>
<path d="M 909.7 1279.5 L 909.7 1292.2"/>
<path d="M 864.0 1262.2 L 919.5 1230.0"/>
<path d="M 868.5 1263.7 L 928.5 1230.0"/>
<path d="M 922.5 1285.5 L 922.5 1299.0 L 1003.4 1327.5"/>
<path d="M 923.2 1285.2 L 1003.4 1315.5"/>
<path d="M 1003.4 1315.5 L 1003.4 1327.5"/>
<path d="M 925.5 1300.5 L 940.4 1305.0 L 940.4 1320.0 Q 933.0 1323.7 925.5 1319.2 Z" fill="#a4a7aa"/>
<path d="M 926.2 1305.0 L 939.7 1308.7 M 926.2 1309.5 L 939.7 1313.2 M 926.2 1314.0 L 939.7 1317.7" stroke-width="0.8" stroke="#eee"/>
<path d="M 1019.9 1337.9 L 1036.4 1341.7 L 1036.4 1355.9 Q 1028.2 1359.7 1019.9 1355.2 Z" fill="#a4a7aa"/>
<path d="M 1020.7 1343.2 L 1035.7 1346.2 M 1020.7 1347.7 L 1035.7 1350.7 M 1020.7 1352.2 L 1035.7 1355.2" stroke-width="0.8" stroke="#eee"/>
<path d="M 904.5 1316.2 L 924.0 1306.5"/>
<path d="M 904.5 1316.2 L 1040.0 1361.9"/>
<path d="M 906.7 1320.0 L 1019.9 1364.0"/>
<path d="M 904.5 1316.2 L 907.5 1364.0"/>
<path d="M 941.9 1307.2 L 988.4 1324.5 L 1003.4 1333.4 L 1019.9 1337.9"/>
<path d="M 950.9 1311.7 L 986.9 1323.7"/>
<path d="M 943.4 1287.0 L 983.9 1230.0"/>
<path d="M 947.9 1286.7 L 989.9 1230.0"/>
<path d="M 943.4 1287.0 Q 942.7 1288.8 945.7 1288.2 L 1019.9 1242.0"/>
<path d="M 983.9 1230.0 L 986.6 1260.0"/>
<path d="M 991.4 1230.0 L 994.4 1258.5"/>
<path d="M 992.9 1305.0 L 1034.9 1246.5"/>
<path d="M 996.7 1306.5 L 1040.0 1248.7"/>
<path d="M 992.9 1305.0 Q 991.7 1307.2 995.2 1306.8"/>
<ellipse cx="930.0" cy="1275.0" rx="16.5" ry="6.7" transform="rotate(0.0 930.0 1275.0)" fill="#fff"/>
<path d="M 917.2 1261.8 L 917.2 1273.8 Q 930.0 1280.2 942.7 1273.8 L 942.7 1261.8 Z" fill="#fff"/>
<ellipse cx="930.0" cy="1261.8" rx="12.7" ry="6.7" transform="rotate(0.0 930.0 1261.8)" fill="#fff"/>
<ellipse cx="930.0" cy="1266.0" rx="12.7" ry="6.7" transform="rotate(0.0 930.0 1266.0)"/>
<ellipse cx="930.0" cy="1261.5" rx="6.7" ry="3.3" transform="rotate(0.0 930.0 1261.5)"/>
<ellipse cx="1024.4" cy="1311.0" rx="16.5" ry="6.7" transform="rotate(0.0 1024.4 1311.0)" fill="#fff"/>
<path d="M 1011.7 1297.8 L 1011.7 1309.8 Q 1024.4 1316.2 1037.2 1309.8 L 1037.2 1297.8 Z" fill="#fff"/>
<ellipse cx="1024.4" cy="1297.8" rx="12.7" ry="6.7" transform="rotate(0.0 1024.4 1297.8)" fill="#fff"/>
<ellipse cx="1024.4" cy="1302.0" rx="12.7" ry="6.7" transform="rotate(0.0 1024.4 1302.0)"/>
<ellipse cx="1024.4" cy="1297.5" rx="6.7" ry="3.3" transform="rotate(0.0 1024.4 1297.5)"/>
<!-- d2_low2.txt -->
<path d="M 1000.0 1306.5 L 1036.0 1248.0 Q 1039.0 1242.7 1045.0 1240.5 L 1060.0 1233.0"/>
<path d="M 1004.5 1305.0 L 1039.0 1249.5"/>
<path d="M 1036.0 1249.5 L 1038.2 1281.0"/>
<path d="M 1042.0 1244.2 L 1045.0 1278.0"/>
<path d="M 1058.5 1236.7 L 1063.0 1264.5"/>
<path d="M 1045.0 1278.0 L 1097.5 1246.5"/>
<path d="M 1081.0 1258.5 L 1107.9 1266.0"/>
<path d="M 1166.4 1270.5 L 1184.4 1273.5 L 1200.0 1266.0"/>
<path d="M 1182.2 1275.0 L 1182.9 1296.0"/>
<!-- d2_low3.txt -->
<path d="M 904.8 1316.5 L 925.5 1305.8"/>
<path d="M 904.8 1316.5 L 1036.8 1366.8 L 1055.7 1356.9"/>
<path d="M 906.5 1319.5 L 1035.1 1369.6"/>
<path d="M 904.8 1316.5 L 908.1 1377.5 Q 909.0 1382.5 914.7 1384.4 L 941.1 1395.3 Q 946.1 1397.6 952.7 1397.0"/>
<path d="M 960.9 1389.9 L 967.5 1389.9 L 995.5 1370.9 Q 1000.2 1369.3 1002.1 1374.2 L 1007.1 1413.8 Q 1008.7 1420.1 1015.3 1422.0 L 1041.7 1431.9 Q 1048.3 1433.9 1054.9 1430.6 L 1058.5 1419.6 L 1055.7 1356.9"/>
<path d="M 941.1 1349.5 L 944.4 1394.0"/>
<path d="M 940.3 1349.5 L 995.5 1369.3"/>
<path d="M 960.9 1356.9 L 962.6 1389.9"/>
<path d="M 965.0 1357.7 L 966.7 1389.1"/>
<path d="M 914.7 1361.8 L 934.5 1370.1 L 934.5 1390.7"/>
<path d="M 913.9 1361.8 L 914.7 1382.5"/>
<ellipse cx="953.5" cy="1384.9" rx="6.6" ry="10.2" transform="rotate(15.0 953.5 1384.9)"/>
<ellipse cx="1050.8" cy="1422.0" rx="6.6" ry="10.2" transform="rotate(15.0 1050.8 1422.0)"/>
<path d="M 1012.9 1398.9 L 1032.6 1405.5 L 1033.5 1427.0"/>
<path d="M 1012.0 1398.9 L 1012.9 1418.7"/>
<path d="M 1035.1 1366.0 L 1041.7 1431.9"/>
<path d="M 1056.6 1357.7 L 1059.0 1418.7 L 1064.0 1422.9"/>
<path d="M 949.4 1311.5 L 987.3 1324.7"/>
<path d="M 944.4 1307.4 L 990.6 1323.1"/>
<!-- d2_mid.txt -->
<path d="M 920.0 1178.0 L 957.5 1188.5 Q 965.0 1190.7 967.7 1199.0 L 973.2 1215.5 Q 977.7 1226.0 987.5 1228.7 L 1009.2 1235.7 Q 1015.2 1236.8 1019.0 1229.0 L 1021.9 1223.0 Q 1024.9 1219.2 1030.2 1220.7 L 1092.4 1245.2 Q 1103.7 1248.5 1108.2 1260.4 L 1113.4 1276.9"/>
<path d="M 920.0 1182.2 L 956.0 1192.7 Q 962.3 1194.8 965.0 1202.7 L 970.2 1218.5 Q 974.7 1229.3 986.0 1231.7 L 1008.5 1238.7 Q 1016.7 1240.7 1020.7 1232.0 L 1023.4 1226.0 Q 1026.1 1223.0 1030.9 1224.2 L 1090.9 1248.5 Q 1099.9 1251.5 1104.4 1263.4 L 1109.2 1278.4"/>
<path d="M 968.7 1184.7 Q 976.2 1186.2 980.7 1196.0 L 986.0 1205.0 Q 989.3 1209.5 995.7 1210.2 L 1024.9 1215.5"/>
<path d="M 983.6 1176.6 Q 993.5 1178.7 998.0 1187.0 L 1005.5 1196.0 L 1120.0 1241.7"/>
<path d="M 978.5 1170.5 L 1023.4 1162.2"/>
<path d="M 941.7 1178.7 L 948.5 1177.2 L 950.0 1184.0 L 943.2 1184.7 Z"/>
<path d="M 950.7 1180.2 L 962.0 1178.0 L 967.2 1181.0 L 963.5 1187.7 L 951.8 1188.2 Z"/>
<path d="M 1035.4 1212.5 L 1042.2 1211.0 L 1043.7 1218.5 L 1036.9 1219.2 Z"/>
<path d="M 1044.4 1214.7 L 1055.7 1212.8 L 1060.2 1216.2 L 1056.4 1223.0 L 1045.6 1223.3 Z"/>
<path d="M 938.7 1195.7 L 950.0 1192.2 Q 953.0 1193.7 953.3 1202.7 L 941.0 1207.2 Z" fill="#74777b"/>
<ellipse cx="933.5" cy="1202.7" rx="6.7" ry="7.5" transform="rotate(15.0 933.5 1202.7)" fill="#fff"/>
<ellipse cx="932.3" cy="1203.5" rx="3.0" ry="3.9" transform="rotate(15.0 932.3 1203.5)"/>
<path d="M 1030.2 1230.2 L 1041.4 1226.7 Q 1044.4 1228.2 1044.7 1237.2 L 1032.4 1241.7 Z" fill="#74777b"/>
<ellipse cx="1024.9" cy="1238.7" rx="6.7" ry="7.5" transform="rotate(15.0 1024.9 1238.7)" fill="#fff"/>
<ellipse cx="1023.7" cy="1239.5" rx="3.0" ry="3.9" transform="rotate(15.0 1023.7 1239.5)"/>
<path d="M 942.5 1285.9 L 984.5 1228.2"/>
<path d="M 946.2 1286.7 L 989.0 1230.5"/>
<path d="M 942.5 1285.9 Q 944.0 1288.6 948.5 1286.7 L 1020.4 1243.2"/>
<path d="M 986.0 1230.5 L 986.7 1263.4"/>
<path d="M 992.0 1230.5 L 993.5 1260.4"/>
<path d="M 1010.0 1223.0 L 1011.5 1247.0"/>
<path d="M 1001.0 1294.0 L 1033.9 1245.5 Q 1036.9 1242.8 1040.7 1244.0"/>
<path d="M 1008.5 1294.0 L 1040.7 1248.5"/>
<path d="M 1035.4 1248.5 L 1038.4 1279.9"/>
<path d="M 1041.4 1248.5 L 1044.4 1276.9"/>
<path d="M 1059.4 1235.0 L 1062.4 1264.9"/>
<path d="M 1044.4 1282.9 L 1095.4 1247.0"/>
<path d="M 920.0 1224.5 L 965.0 1209.5"/>
<path d="M 920.0 1232.0 L 966.5 1214.0"/>
<!-- d2_r1.txt -->
<path d="M 1089.2 1101.5 Q 1096.3 1099.6 1103.5 1100.0 Q 1105.7 1100.3 1107.8 1101.4 L 1148.3 1116.6 L 1157.5 1141.3 Q 1159.0 1144.9 1161.5 1146.3 L 1166.5 1143.4 L 1175.9 1147.4 L 1185.7 1139.7" stroke-width="1.7"/>
<path d="M 1089.2 1103.7 L 1097.1 1102.5 L 1104.3 1102.9 L 1144.8 1118.0 L 1147.0 1119.5 L 1154.7 1142.7 L 1157.2 1146.4"/>
<path d="M 1097.1 1102.9 L 1102.9 1135.6"/>
<path d="M 1103.6 1102.5 L 1107.0 1126.9"/>
<ellipse cx="1112.2" cy="1120.7" rx="6.8" ry="4.4" transform="rotate(-5.0 1112.2 1120.7)"/>
<path d="M 1105.4 1121.4 L 1109.5 1146.5"/>
<path d="M 1119.0 1121.0 L 1120.1 1138.5"/>
<path d="M 1118.9 1114.5 L 1129.1 1155.9"/>
<path d="M 1119.6 1115.9 Q 1121.7 1113.0 1124.6 1115.2 L 1127.3 1139.9"/>
<path d="M 1127.1 1130.5 L 1135.8 1133.3 L 1143.2 1142.8 L 1146.5 1161.7"/>
<path d="M 1128.5 1129.0 L 1142.7 1120.9"/>
<path d="M 1142.7 1119.5 L 1147.9 1160.2"/>
<path d="M 1146.2 1118.8 L 1150.0 1159.5"/>
<path d="M 1110.8 1138.5 L 1127.4 1144.3"/>
<path d="M 1106.6 1143.6 L 1111.0 1148.7 L 1146.5 1163.9"/>
<path d="M 1090.2 1146.6 L 1130.6 1160.3"/>
<path d="M 1090.3 1152.4 L 1130.8 1169.0"/>
<path d="M 1089.9 1132.8 L 1105.6 1129.1"/>
<path d="M 1090.0 1139.3 L 1102.9 1136.3"/>
<path d="M 1159.1 1151.4 L 1162.4 1168.9"/>
<path d="M 1174.2 1149.9 L 1177.5 1168.8"/>
<path d="M 1176.3 1148.5 L 1180.0 1168.8"/>
<!-- d2_r2.txt -->
<path d="M 1185.7 1140.2 L 1186.3 1134.4 Q 1187.0 1132.2 1189.9 1132.6 L 1234.7 1149.5 Q 1237.6 1151.0 1238.4 1154.6 L 1243.8 1187.3 L 1226.5 1202.6" stroke-width="1.7"/>
<path d="M 1187.1 1138.0 L 1231.6 1153.2 L 1231.2 1154.6 L 1204.6 1183.8"/>
<path d="M 1237.7 1155.3 L 1194.3 1202.8"/>
<path d="M 1159.4 1149.0 L 1166.4 1144.3 L 1175.1 1148.6 L 1177.0 1150.4 L 1180.0 1174.4"/>
<path d="M 1160.2 1151.9 L 1161.2 1168.7"/>
<path d="M 1174.4 1149.0 L 1177.1 1174.4"/>
<path d="M 1176.2 1147.5 L 1190.0 1138.0 L 1192.9 1138.7"/>
<path d="M 1190.0 1138.8 L 1195.7 1168.6"/>
<path d="M 1192.1 1138.4 L 1197.1 1168.6"/>
<path d="M 1179.8 1163.5 L 1199.3 1171.5 L 1201.0 1180.9"/>
<path d="M 1180.6 1167.2 L 1197.9 1172.2"/>
<ellipse cx="1202.2" cy="1155.1" rx="6.8" ry="4.0" transform="rotate(-5.0 1202.2 1155.1)"/>
<path d="M 1195.8 1156.9 L 1200.2 1180.9"/>
<path d="M 1209.0 1154.7 L 1214.4 1173.6"/>
<path d="M 1210.3 1149.6 L 1217.2 1169.2"/>
<path d="M 1211.7 1148.9 Q 1214.6 1149.6 1215.4 1151.8 L 1217.9 1168.5"/>
<path d="M 1159.1 1169.4 L 1203.2 1183.8"/>
<path d="M 1157.8 1173.8 L 1202.5 1185.3"/>
<path d="M 1157.9 1179.6 L 1198.3 1191.8"/>
<ellipse cx="1187.6" cy="1191.9" rx="6.8" ry="4.0" transform="rotate(-5.0 1187.6 1191.9)"/>
<path d="M 1180.8 1193.3 L 1181.3 1202.8"/>
<path d="M 1194.4 1192.6 L 1194.8 1195.5"/>
<path d="M 1226.5 1201.9 L 1243.4 1188.8" stroke-width="0.9"/>
<path d="M 1228.0 1202.6 L 1243.8 1190.2" stroke-width="0.9"/>
<!-- d2_r3.txt -->
<path d="M 1085.9 1145.9 L 1148.0 1167.6"/>
<path d="M 1086.0 1151.0 L 1148.2 1174.7"/>
<path d="M 1087.2 1159.6 L 1148.4 1183.9"/>
<path d="M 1093.5 1170.3 L 1148.7 1196.1"/>
<path d="M 1014.5 1185.3 L 1078.2 1158.7"/>
<path d="M 1014.7 1194.5 L 1067.4 1172.9"/>
<path d="M 1078.9 1145.4 L 1080.2 1159.7"/>
<path d="M 1085.4 1146.4 L 1085.7 1158.6"/>
<path d="M 1078.9 1145.4 Q 1081.9 1144.6 1085.9 1145.9"/>
<ellipse cx="1080.6" cy="1180.0" rx="16.6" ry="8.1" transform="rotate(0.0 1080.6 1180.0)" fill="#fff"/>
<path d="M 1068.3 1167.8 L 1069.0 1178.5 Q 1080.7 1185.1 1093.1 1176.9 L 1092.4 1167.8 Z" fill="#fff"/>
<ellipse cx="1080.3" cy="1166.8" rx="12.6" ry="6.6" transform="rotate(0.0 1080.3 1166.8)" fill="#fff"/>
<ellipse cx="1080.4" cy="1168.3" rx="12.1" ry="5.6" transform="rotate(0.0 1080.4 1168.3)"/>
<ellipse cx="1080.1" cy="1166.8" rx="6.0" ry="3.3" transform="rotate(0.0 1080.1 1166.8)"/>
<path d="M 1014.8 1202.6 L 1027.8 1196.5 Q 1032.8 1195.5 1037.8 1196.5 L 1081.1 1202.4 Q 1084.2 1203.4 1082.2 1206.5 L 1071.3 1212.6"/>
<path d="M 1020.9 1205.7 L 1029.8 1199.5 L 1080.2 1205.5"/>
<path d="M 1032.8 1198.5 L 1034.1 1210.7"/>
<path d="M 1038.9 1199.5 L 1041.1 1210.7"/>
<path d="M 1014.9 1204.7 L 1038.2 1213.8 L 1057.1 1206.6 L 1115.0 1232.6"/>
<path d="M 1106.8 1135.1 L 1110.1 1148.4 L 1129.3 1157.5"/>
<path d="M 1111.4 1138.2 L 1128.1 1144.2"/>
<!-- d2_right.txt -->
<path d="M 1080.0 1239.2 L 1101.0 1243.7 Q 1107.0 1246.0 1109.2 1255.0 L 1114.2 1276.7 Q 1116.7 1284.2 1125.0 1283.1 L 1137.0 1280.4"/>
<path d="M 1080.0 1229.5 L 1108.5 1240.0 Q 1115.2 1243.0 1117.5 1252.0 L 1122.7 1273.0 L 1128.0 1271.2 L 1128.3 1277.5 L 1116.7 1279.0"/>
<path d="M 1080.0 1219.0 L 1120.5 1226.5"/>
<path d="M 1120.5 1226.5 Q 1128.0 1228.0 1131.7 1240.0 L 1134.0 1250.5"/>
<path d="M 1102.5 1217.5 L 1128.0 1220.5 L 1132.5 1223.5 L 1125.0 1228.7"/>
<path d="M 1126.5 1261.0 L 1138.5 1248.2 L 1143.0 1250.5 L 1131.7 1263.2 Z"/>
<path d="M 1131.7 1263.2 L 1137.0 1280.4"/>
<path d="M 1126.5 1261.7 L 1128.0 1277.5"/>
<path d="M 1140.0 1248.2 L 1154.2 1240.0 L 1211.9 1180.0"/>
<path d="M 1143.0 1250.5 L 1158.0 1243.7 L 1242.7 1192.7 L 1243.4 1180.0"/>
<path d="M 1137.0 1280.4 Q 1146.0 1277.5 1152.0 1273.7 L 1214.2 1219.3 L 1242.7 1192.7"/>
<path d="M 1120.5 1314.0 L 1211.9 1222.3 Q 1215.2 1219.7 1214.6 1217.2"/>
<path d="M 1095.0 1314.0 L 1119.3 1284.9"/>
<path d="M 1089.0 1314.0 L 1114.5 1285.7"/>
<path d="M 1153.5 1246.7 L 1155.0 1268.5"/>
<path d="M 1158.0 1246.0 L 1160.2 1267.0"/>
<path d="M 1119.3 1284.9 L 1123.5 1314.0"/>
<ellipse cx="1165.5" cy="1216.0" rx="11.7" ry="6.0" transform="rotate(0.0 1165.5 1216.0)" fill="#fff"/>
<path d="M 1158.0 1203.2 L 1158.0 1214.5 Q 1170.0 1220.5 1181.9 1213.7 L 1181.9 1202.5 Z" fill="#fff"/>
<ellipse cx="1170.0" cy="1202.8" rx="12.0" ry="6.3" transform="rotate(0.0 1170.0 1202.8)" fill="#fff"/>
<ellipse cx="1170.0" cy="1206.2" rx="12.0" ry="6.3" transform="rotate(0.0 1170.0 1206.2)"/>
<ellipse cx="1170.0" cy="1202.8" rx="6.7" ry="3.7" transform="rotate(0.0 1170.0 1202.8)"/>
<ellipse cx="1190.2" cy="1190.8" rx="6.7" ry="4.2" transform="rotate(0.0 1190.2 1190.8)"/>
<path d="M 1183.4 1192.0 L 1183.4 1208.5"/>
<path d="M 1196.9 1191.2 L 1196.9 1196.5"/>
<ellipse cx="1156.5" cy="1226.5" rx="6.7" ry="4.2" transform="rotate(0.0 1156.5 1226.5)"/>
<path d="M 1149.7 1228.0 L 1150.5 1240.0"/>
<path d="M 1163.2 1227.2 L 1163.2 1232.5"/>
<path d="M 1164.0 1268.5 L 1183.4 1257.2 L 1202.9 1264.3"/>
<path d="M 1167.0 1270.3 L 1183.4 1276.7 L 1202.9 1264.7"/>
<path d="M 1183.4 1276.7 L 1183.4 1295.4"/>
<path d="M 1202.9 1264.3 L 1204.1 1304.4"/>
<path d="M 1150.5 1284.9 L 1226.9 1314.0"/>
<path d="M 1170.0 1259.5 L 1181.9 1256.5 L 1183.4 1264.0 L 1171.5 1266.2 Z" fill="#a4a7aa"/>
<path d="M 1101.7 1204.7 L 1119.3 1199.5 L 1123.8 1207.7"/>
<path d="M 1110.0 1201.3 L 1122.0 1198.7"/>
<path d="M 1105.5 1206.2 L 1116.0 1206.2 L 1117.8 1211.8"/>
<path d="M 1111.5 1189.3 Q 1113.3 1185.2 1117.8 1186.3 L 1164.0 1202.2 Q 1166.2 1205.5 1161.7 1206.2 L 1113.7 1192.3 Z"/>
<!-- d2_strapL.txt -->
<path d="M 880.0 1192.3 L 877.7 1168.0 Q 878.2 1164.7 882.2 1164.7 L 920.0 1178.0"/>
<path d="M 882.2 1192.7 L 880.7 1172.5 Q 881.2 1169.2 884.8 1169.5 L 920.0 1182.2"/>
<path d="M 898.0 1159.7 L 930.2 1154.5 L 984.9 1176.2"/>
<path d="M 895.0 1150.0 L 897.7 1160.2"/>
<path d="M 881.5 1192.7 L 929.5 1189.3"/>
<!-- /DRAWINGS -->
<g stroke="none" fill="#53565a" font-family="Liberation Sans, sans-serif">
<text x="969.3" y="944.8" font-size="25.5" font-weight="bold" textLength="61.5" lengthAdjust="spacingAndGlyphs">7.5 Nm</text>
<text x="970.5" y="961.8" font-size="15.5" textLength="58.5" lengthAdjust="spacingAndGlyphs">(5.5 lb-ft)</text>
</g>
<g fill="#53565a" stroke="#fff" stroke-width="2.5" paint-order="stroke" font-family="Liberation Sans, sans-serif" font-weight="bold" font-size="41">
<text transform="translate(1041.1 1182.2) scale(0.75 1)">1</text>
<text transform="translate(1042.6 1296.7) scale(0.85 1)">2</text>
<text transform="translate(1131.8 1211.4) scale(0.92 1)">3</text>
<text transform="translate(936.8 1249.7) scale(0.95 1)">4</text>
</g>
</svg>
</body></html>
